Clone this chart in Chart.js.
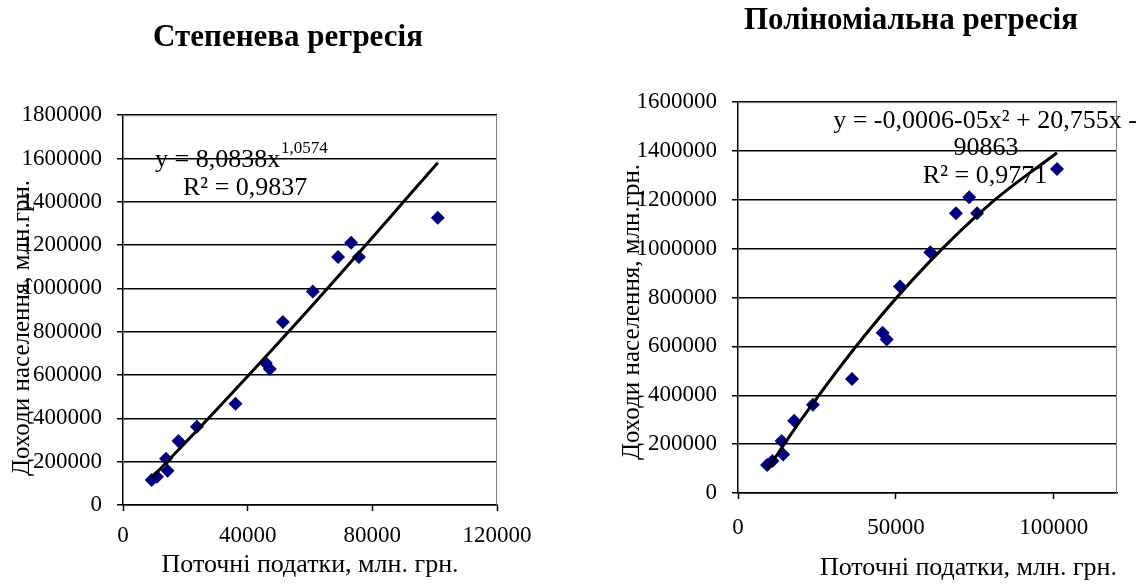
<!DOCTYPE html>
<html>
<head>
<meta charset="utf-8">
<script src="https://cdn.jsdelivr.net/npm/chart.js@4.4.1/dist/chart.umd.min.js"></script>
<style>
    html, body { margin: 0; padding: 0; background: #fff; overflow: hidden; }
    .box { position: absolute; top: 0; height: 584px; }
    #left { left: 0; width: 576px; }
    #right { left: 611px; width: 600px; }
</style>
</head>
<body>
<div class="box" id="left"><canvas id="power-chart"></canvas></div>
<div class="box" id="right"><canvas id="poly-chart"></canvas></div>
<script>
    'use strict';

    // observations: current taxes (x) vs. population incomes (y)
    var taxes   = [9200, 10900, 13800, 14300, 17800, 23700, 36100, 45800, 47100, 51300, 60900, 69000, 73200, 75700, 101000];
    var incomes = [115000, 131000, 213000, 158000, 296000, 361000, 467000, 656000, 628000, 845000, 986000, 1145000, 1211000, 1145000, 1327000];

    // trend lines
    var powerTrendX = [9200, 30000, 60000, 101000];
    var powerTrendY = [125000, 440000, 910000, 1580000];
    var polyTrendX  = [9200, 20000, 40000, 60000, 80000, 101000];
    var polyTrendY  = [95000, 300000, 643000, 938000, 1186000, 1393000];

    // axis ticks
    var powerXTicks = [0, 40000, 80000, 120000];
    var polyXTicks  = [0, 50000, 100000];
    var powerYTicks = [0, 200000, 400000, 600000, 800000, 1000000, 1200000, 1400000, 1600000, 1800000];
    var polyYTicks  = [0, 200000, 400000, 600000, 800000, 1000000, 1200000, 1400000, 1600000];

    var xTitle = 'Поточні податки, млн. грн.';
    var yTitle = 'Доходи населення, млн.грн.';

    var serif = "'Liberation Serif', 'Times New Roman', serif";

    function points(xs, ys) {
        return xs.map(function(x, i) { return { x: x, y: ys[i] }; });
    }

    function fixedTicks(values) {
        return function(scale) {
            scale.ticks = values.map(function(v) { return { value: v }; });
        };
    }

    // draws the rotated y title and the regression equations
    function textPlugin(spec) {
        return {
            id: 'freeText',
            afterDraw: function(chart) {
                var ctx = chart.ctx;
                ctx.save();
                ctx.fillStyle = '#000';
                ctx.textBaseline = 'middle';
                ctx.textAlign = 'center';
                ctx.font = '25px ' + serif;
                ctx.translate(spec.yTitleX, spec.yTitleY);
                ctx.rotate(-Math.PI / 2);
                ctx.fillText(yTitle, 0, 0);
                ctx.restore();

                ctx.save();
                ctx.fillStyle = '#000';
                ctx.textBaseline = 'alphabetic';
                spec.lines.forEach(function(l) {
                    ctx.font = l.size + 'px ' + serif;
                    ctx.textAlign = l.align || 'left';
                    ctx.fillText(l.text, l.x, l.y);
                });
                ctx.restore();
            }
        };
    }

    // grey top and right edge of the plot area
    var frame = {
        id: 'frame',
        beforeDatasetsDraw: function(chart) {
            var a = chart.chartArea, ctx = chart.ctx;
            ctx.save();
            ctx.strokeStyle = '#808080';
            ctx.lineWidth = 1;
            ctx.beginPath();
            ctx.moveTo(a.left, a.top + 0.5);
            ctx.lineTo(a.right - 0.5, a.top + 0.5);
            ctx.lineTo(a.right - 0.5, a.bottom);
            ctx.stroke();
            ctx.restore();
        }
    };

    function makeChart(id, o) {
        return new Chart(document.getElementById(id), {
            type: 'scatter',
            data: {
                datasets: [
                    {
                        type: 'line',
                        data: points(o.trendX, o.trendY),
                        borderColor: '#000',
                        borderWidth: 3,
                        pointRadius: 0,
                        fill: false,
                        cubicInterpolationMode: 'monotone'
                    },
                    {
                        data: points(taxes, incomes),
                        pointStyle: 'rectRot',
                        pointRadius: 7,
                        backgroundColor: '#000080',
                        borderColor: '#000080',
                        borderWidth: 0
                    }
                ]
            },
            options: {
                responsive: true,
                maintainAspectRatio: false,
                animation: false,
                layout: { padding: 0 },
                plugins: {
                    legend: { display: false },
                    tooltip: { enabled: false },
                    title: {
                        display: true,
                        text: o.title,
                        color: '#000',
                        font: { family: serif, size: 31, weight: 'bold' },
                        padding: o.titlePad
                    }
                },
                scales: {
                    x: {
                        type: 'linear',
                        min: 0,
                        max: o.xMax,
                        afterBuildTicks: fixedTicks(o.xTicks),
                        afterFit: function(s) { s.height = o.xAxisH; },
                        ticks: {
                            autoSkip: false,
                            maxRotation: 0,
                            padding: o.xTickPad,
                            color: '#000',
                            font: { family: serif, size: 23 },
                            callback: function(v) { return String(v); }
                        },
                        grid: { color: 'rgba(0,0,0,0)', tickColor: '#000', tickLength: 6, tickWidth: 1.5 },
                        border: { color: '#000', width: 1.5 },
                        title: {
                            display: true,
                            text: xTitle,
                            align: o.xTitleAlign,
                            color: '#000',
                            font: { family: serif, size: 26 },
                            padding: { top: 0, bottom: o.xTitlePad }
                        }
                    },
                    y: {
                        type: 'linear',
                        min: 0,
                        max: o.yMax,
                        afterBuildTicks: fixedTicks(o.yTicks),
                        afterFit: function(s) { s.width = o.yAxisW; },
                        ticks: {
                            autoSkip: false,
                            padding: 15,
                            color: '#000',
                            font: { family: serif, size: 23 },
                            callback: function(v) { return String(v); }
                        },
                        grid: { color: '#000', lineWidth: 1.5, tickColor: '#000', tickLength: 6, tickWidth: 1.5 },
                        border: { color: '#000', width: 1.5 }
                    },
                    spacer: {
                        type: 'linear',
                        axis: 'y',
                        position: 'right',
                        ticks: { display: false },
                        grid: { display: false },
                        border: { display: false },
                        afterFit: function(s) { s.width = o.rightW; }
                    }
                }
            },
            plugins: [frame, textPlugin(o.text)]
        });
    }

    makeChart('power-chart', {
        title: 'Степенева регресія',
        titlePad: { top: 19, bottom: 59 },
        trendX: powerTrendX,
        trendY: powerTrendY,
        xMax: 120000,
        xTicks: powerXTicks,
        yMax: 1800000,
        yTicks: powerYTicks,
        xAxisH: 79,
        yAxisW: 123,
        rightW: 79,
        xTickPad: 11,
        xTitleAlign: 'center',
        xTitlePad: 3,
        text: {
            yTitleX: 22,
            yTitleY: 328,
            lines: [
                { text: 'y = 8,0838x', x: 155, y: 167, size: 26 },
                { text: '1,0574', x: 281, y: 153, size: 17 },
                { text: 'R² = 0,9837', x: 183, y: 195, size: 26 }
            ]
        }
    });

    makeChart('poly-chart', {
        title: 'Поліноміальна регресія',
        titlePad: { top: 2, bottom: 63 },
        trendX: polyTrendX,
        trendY: polyTrendY,
        xMax: 120000,
        xTicks: polyXTicks,
        yMax: 1600000,
        yTicks: polyYTicks,
        xAxisH: 91,
        yAxisW: 127,
        rightW: 94,
        xTickPad: 15,
        xTitleAlign: 'end',
        xTitlePad: 0,
        text: {
            yTitleX: 21,
            yTitleY: 312,
            lines: [
                { text: 'y = -0,0006-05x² + 20,755x -', x: 374, y: 128, size: 26, align: 'center' },
                { text: '90863', x: 375, y: 155, size: 26, align: 'center' },
                { text: 'R² = 0,9771', x: 374, y: 183, size: 26, align: 'center' }
            ]
        }
    });
</script>
</body>
</html>
